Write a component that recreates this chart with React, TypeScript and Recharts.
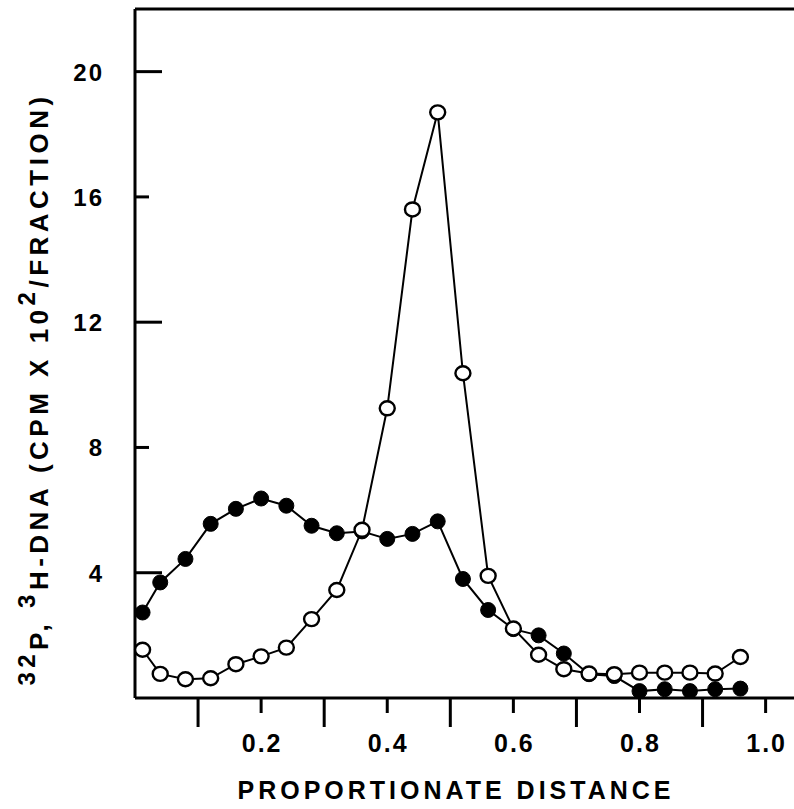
import { LineChart, Line, XAxis, YAxis, ReferenceLine, Label } from 'recharts';

// fraction position along the gradient (proportionate distance)
const distance = [
    0.012, 0.04, 0.08, 0.12, 0.16, 0.2, 0.24, 0.28, 0.32, 0.36, 0.4, 0.44, 0.48,
    0.52, 0.56, 0.6, 0.64, 0.68, 0.72, 0.76, 0.8, 0.84, 0.88, 0.92, 0.96,
];

// open circles
const openCpm = [
    1.54, 0.77, 0.6, 0.63, 1.08, 1.33, 1.61, 2.52, 3.45, 5.37, 9.25, 15.6, 18.7,
    10.37, 3.9, 2.22, 1.38, 0.92, 0.78, 0.76, 0.81, 0.81, 0.81, 0.78, 1.31,
];

// filled circles
const filledCpm = [
    2.73, 3.69, 4.44, 5.56, 6.04, 6.37, 6.14, 5.5, 5.26, 5.32, 5.08, 5.24, 5.64,
    3.8, 2.81, 2.2, 2.0, 1.42, 0.76, 0.7, 0.22, 0.28, 0.22, 0.28, 0.3,
];

const xTicks = [0.1, 0.2, 0.3, 0.4, 0.5, 0.6, 0.7, 0.8, 0.9, 1.0];
const yTicks = [4, 8, 12, 16, 20];

const data = distance.map((x, i) => ({ x, open: openCpm[i], filled: filledCpm[i] }));

const FONT = '"Liberation Sans", Arial, sans-serif';

const XTick = ({ x, y, payload }: any) => {
    const tenths = Math.round(payload.value * 10);
    const labelled = tenths % 2 === 0;
    return (
        <g>
            <line x1={x} x2={x} y1={y} y2={y + (labelled ? 15 : 29)} stroke="#000" strokeWidth={3} />
            {labelled && (
                <text x={x + 1} y={y + 54} textAnchor="middle" fontFamily={FONT} fontWeight={700} fontSize={25} letterSpacing={2} fill="#000">
                    {payload.value.toFixed(1)}
                </text>
            )}
        </g>
    );
};

const YTick = ({ x, y, payload }: any) => {
    const long = payload.value % 8 === 4;
    return (
        <g>
            <line x1={x} x2={x + (long ? 27 : 14)} y1={y} y2={y} stroke="#000" strokeWidth={3} />
            <text x={x - 31} y={y + 9} textAnchor="end" fontFamily={FONT} fontWeight={700} fontSize={24} letterSpacing={2} fill="#000">
                {payload.value}
            </text>
        </g>
    );
};

const OpenDot = ({ cx, cy }: any) => (
    <ellipse cx={cx} cy={cy} rx={7.5} ry={7} fill="#fff" stroke="#000" strokeWidth={2.4} />
);

const FilledDot = ({ cx, cy }: any) => (
    <circle cx={cx} cy={cy} r={7.5} fill="#000" stroke="#000" strokeWidth={1} />
);

const YTitle = () => (
    <text
        transform="translate(48, 389) rotate(-90)"
        textAnchor="middle"
        fontFamily={FONT}
        fontWeight={700}
        fontSize={26}
        letterSpacing={4.5}
        fill="#000"
    >
        <tspan fontSize={24} dy={-13}>32</tspan>
        <tspan dy={13}>P, </tspan>
        <tspan fontSize={24} dy={-13}>3</tspan>
        <tspan dy={13}>H-DNA (CPM X 10</tspan>
        <tspan fontSize={24} dy={-13}>2</tspan>
        <tspan dy={13}>/FRACTION)</tspan>
    </text>
);

const XTitle = () => (
    <text x={456} y={799} textAnchor="middle" fontFamily={FONT} fontWeight={700} fontSize={25} letterSpacing={4} fill="#000">
        PROPORTIONATE DISTANCE
    </text>
);

export default function App() {
    return (
        <div style={{ position: 'absolute', left: 0, top: 0, background: '#fff' }}>
            <LineChart width={794} height={809} data={data} margin={{ top: 9, right: 0, left: 0, bottom: 0 }}>
                <XAxis
                    type="number"
                    dataKey="x"
                    domain={[0, 1.045]}
                    ticks={xTicks}
                    interval={0}
                    height={111}
                    tickSize={0}
                    tickMargin={0}
                    tickLine={false}
                    axisLine={{ stroke: '#000', strokeWidth: 3 }}
                    tick={<XTick />}
                >
                    <Label content={<XTitle />} />
                </XAxis>
                <YAxis
                    type="number"
                    domain={[0, 22]}
                    ticks={yTicks}
                    interval={0}
                    width={135}
                    tickSize={0}
                    tickMargin={0}
                    tickLine={false}
                    axisLine={{ stroke: '#000', strokeWidth: 3 }}
                    tick={<YTick />}
                >
                    <Label content={<YTitle />} />
                </YAxis>
                <ReferenceLine y={22} stroke="#000" strokeWidth={3} />
                <Line
                    dataKey="filled"
                    stroke="#000"
                    strokeWidth={2}
                    type="linear"
                    dot={<FilledDot />}
                    isAnimationActive={false}
                />
                <Line
                    dataKey="open"
                    stroke="#000"
                    strokeWidth={2}
                    type="linear"
                    dot={<OpenDot />}
                    isAnimationActive={false}
                />
            </LineChart>
        </div>
    );
}
